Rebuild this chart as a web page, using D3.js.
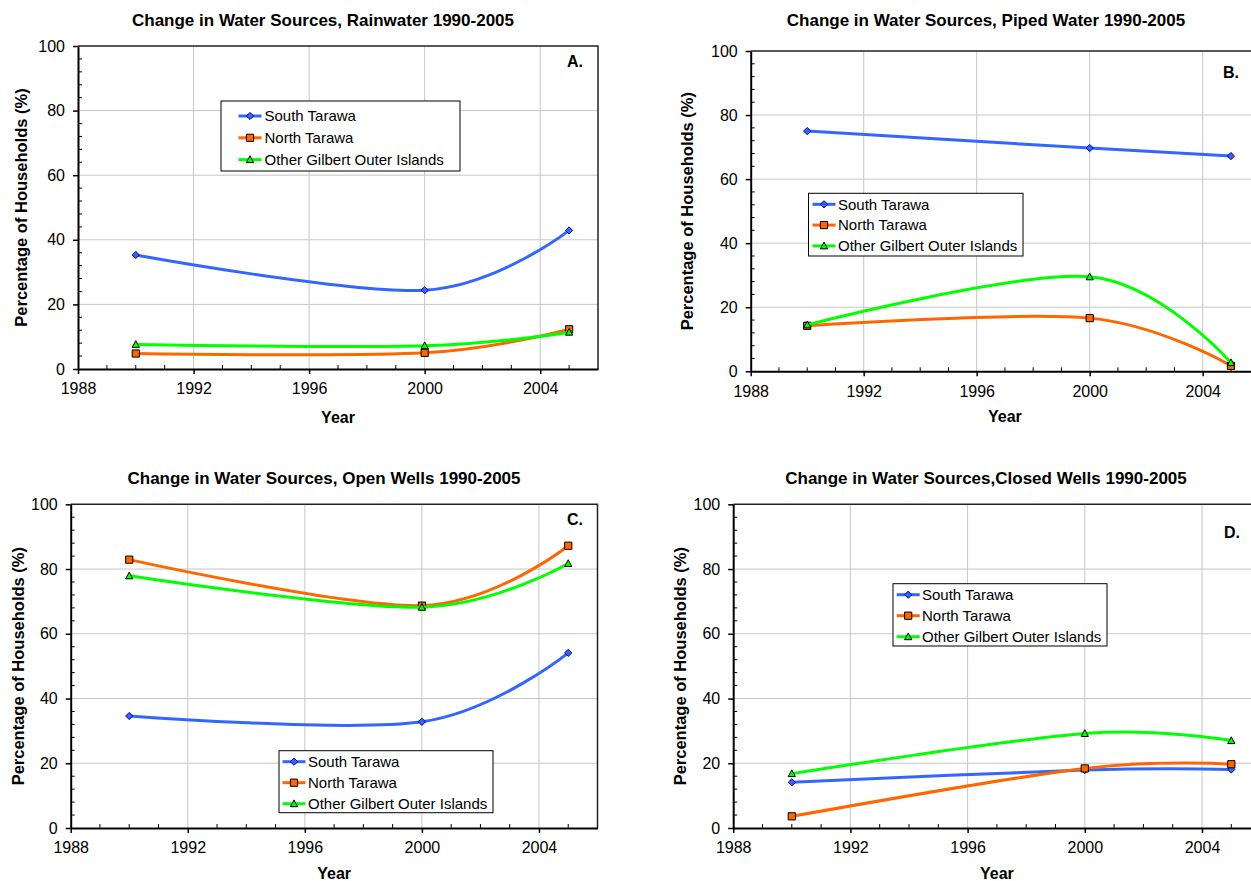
<!DOCTYPE html>
<html>
<head>
<meta charset="utf-8">
<script src="https://cdn.jsdelivr.net/npm/d3@7"></script>
<style>
  html, body { margin: 0; padding: 0; background: #fff; }
  svg { display: block; font-family: "Liberation Sans", Arial, sans-serif; }
</style>
</head>
<body>
<svg id="chart" width="1251" height="881"></svg>
<script>
// ---------------- DATA ----------------
const years = [1990, 2000, 2005];
const seriesNames = ["South Tarawa", "North Tarawa", "Other Gilbert Outer Islands"];

const rainwaterSouth = [35.3, 24.4, 42.9];
const rainwaterNorth = [4.8, 5.0, 12.3];
const rainwaterOther = [7.6, 7.2, 11.4];

const pipedSouth = [75.0, 69.7, 67.2];
const pipedNorth = [14.2, 16.6, 1.7];
const pipedOther = [14.5, 29.5, 2.7];

const openSouth = [34.6, 32.8, 54.1];
const openNorth = [82.9, 68.7, 87.2];
const openOther = [77.9, 68.2, 81.7];

const closedSouth = [14.1, 17.9, 18.1];
const closedNorth = [3.6, 18.4, 19.7];
const closedOther = [16.8, 29.2, 27.0];

const panelTitles = [
  "Change in Water Sources, Rainwater 1990-2005",
  "Change in Water Sources, Piped Water 1990-2005",
  "Change in Water Sources, Open Wells 1990-2005",
  "Change in Water Sources,Closed Wells 1990-2005"
];
const panelLetters = ["A.", "B.", "C.", "D."];
const xTickValues = [1988, 1992, 1996, 2000, 2004];
const yTickValues = [0, 20, 40, 60, 80, 100];
const xAxisTitle = "Year";
const yAxisTitle = "Percentage of Households (%)";

// ---------------- STYLE / LAYOUT ----------------
const colors = ["#3366FF", "#FF6600", "#00FF00"];
const markerStroke = ["#000080", "#000000", "#000000"];
const markerKinds = ["diamond", "square", "triangle"];

const panels = [
  { data: [rainwaterSouth, rainwaterNorth, rainwaterOther],
    x0: 78, x1: 598, y0: 369, y1: 46, xTitleOff: 48,
    titleX: 323, titleY: 20, letterX: 575, letterY: 61,
    yTitleX: 21,
    legend: { x: 221, y: 101, w: 239, h: 70, row0: 15, rowGap: 21.8, sx: 17.5, tx: 43.5 } },
  { data: [pipedSouth, pipedNorth, pipedOther],
    x0: 750.7, x1: 1259.2, y0: 371.3, y1: 51, xTitleOff: 45,
    titleX: 986, titleY: 20, letterX: 1231, letterY: 72,
    yTitleX: 687,
    legend: { x: 808.5, y: 193.3, w: 214.5, h: 62.7, row0: 11, rowGap: 20.8, sx: 4, tx: 29.5 } },
  { data: [openSouth, openNorth, openOther],
    x0: 70.7, x1: 597.5, y0: 828, y1: 504.3, xTitleOff: 45,
    titleX: 324, titleY: 478, letterX: 575, letterY: 519,
    yTitleX: 18,
    legend: { x: 279, y: 750.7, w: 214, h: 62, row0: 11, rowGap: 21, sx: 3.5, tx: 29 } },
  { data: [closedSouth, closedNorth, closedOther],
    x0: 733.2, x1: 1260.6, y0: 828, y1: 504.3, xTitleOff: 45,
    titleX: 986, titleY: 478, letterX: 1232, letterY: 532,
    yTitleX: 680,
    legend: { x: 893, y: 583.7, w: 214, h: 62.3, row0: 11, rowGap: 21, sx: 3.7, tx: 29 } }
];

const svg = d3.select("#chart");

function markerPath(kind) {
  if (kind === "diamond") return "M0,-3.6L3.6,0L0,3.6L-3.6,0Z";
  if (kind === "square") return "M-3.6,-3.6H3.6V3.6H-3.6Z";
  return "M0,-3.8L3.6,3L-3.6,3Z";
}

panels.forEach((p, pi) => {
  const g = svg.append("g");
  const x = d3.scaleLinear().domain([1988, 2006]).range([p.x0, p.x1]);
  const y = d3.scaleLinear().domain([0, 100]).range([p.y0, p.y1]);

  // gridlines
  g.append("g").selectAll("line.vg")
    .data(xTickValues.filter(v => v > 1988))
    .join("line")
    .attr("x1", d => x(d)).attr("x2", d => x(d))
    .attr("y1", p.y0).attr("y2", p.y1)
    .attr("stroke", "#c6c6c6").attr("stroke-width", 1);
  g.append("g").selectAll("line.hg")
    .data(yTickValues.filter(v => v > 0 && v < 100))
    .join("line")
    .attr("x1", p.x0).attr("x2", p.x1)
    .attr("y1", d => y(d)).attr("y2", d => y(d))
    .attr("stroke", "#c6c6c6").attr("stroke-width", 1);

  // plot border top/right
  g.append("path")
    .attr("d", `M${p.x0},${p.y1}H${p.x1}V${p.y0}`)
    .attr("fill", "none").attr("stroke", "#222").attr("stroke-width", 1.5);

  // minor ticks (inside)
  const minorX = d3.range(1989, 2006).filter(v => !xTickValues.includes(v));
  g.append("g").selectAll("line")
    .data(minorX).join("line")
    .attr("x1", d => x(d)).attr("x2", d => x(d))
    .attr("y1", p.y0).attr("y2", p.y0 - 4)
    .attr("stroke", "#000").attr("stroke-width", 1);
  const minorY = d3.range(4, 100, 4).filter(v => v % 20 !== 0);
  g.append("g").selectAll("line")
    .data(minorY).join("line")
    .attr("x1", p.x0).attr("x2", p.x0 + 4)
    .attr("y1", d => y(d)).attr("y2", d => y(d))
    .attr("stroke", "#000").attr("stroke-width", 1);

  // axes
  const xAxis = d3.axisBottom(x).tickValues(xTickValues).tickFormat(d3.format("d"))
    .tickSizeInner(5).tickSizeOuter(0).tickPadding(9);
  const gx = g.append("g").attr("transform", `translate(0,${p.y0})`).call(xAxis);
  const yAxis = d3.axisLeft(y).tickValues(yTickValues).tickSizeInner(5).tickSizeOuter(0).tickPadding(8);
  const gy = g.append("g").attr("transform", `translate(${p.x0},0)`).call(yAxis);
  [gx, gy].forEach(ax => {
    ax.select(".domain").attr("stroke", "#000").attr("stroke-width", 2);
    ax.selectAll(".tick line").attr("stroke", "#000").attr("stroke-width", 1.5);
    ax.selectAll(".tick text").attr("font-size", 16).attr("fill", "#000")
      .attr("font-family", "Liberation Sans, Arial, sans-serif");
  });

  // titles
  g.append("text").attr("x", p.titleX).attr("y", p.titleY).attr("dy", "0.35em")
    .attr("text-anchor", "middle").attr("font-size", 17).attr("font-weight", "bold")
    .text(panelTitles[pi]);
  g.append("text").attr("x", (p.x0 + p.x1) / 2).attr("y", p.y0 + p.xTitleOff).attr("dy", "0.35em")
    .attr("text-anchor", "middle").attr("font-size", 16).attr("font-weight", "bold")
    .text(xAxisTitle);
  g.append("text")
    .attr("transform", `translate(${p.yTitleX},${(p.y0 + p.y1) / 2}) rotate(-90)`)
    .attr("dy", "0.35em").attr("text-anchor", "middle")
    .attr("font-size", 16.5).attr("font-weight", "bold")
    .text(yAxisTitle);
  g.append("text").attr("x", p.letterX).attr("y", p.letterY).attr("dy", "0.35em")
    .attr("text-anchor", "middle").attr("font-size", 16).attr("font-weight", "bold")
    .text(panelLetters[pi]);

  // series
  const line = d3.line().x((d, i) => x(years[i])).y(d => y(d)).curve(d3.curveCardinal.tension(0));
  p.data.forEach((vals, si) => {
    const sg = g.append("g");
    sg.append("path").attr("d", line(vals))
      .attr("fill", "none").attr("stroke", colors[si]).attr("stroke-width", 3)
      .attr("stroke-linejoin", "round");
    sg.selectAll("path.m").data(vals).join("path")
      .attr("class", "m")
      .attr("transform", (d, i) => `translate(${x(years[i])},${y(d)})`)
      .attr("d", markerPath(markerKinds[si]))
      .attr("fill", colors[si]).attr("stroke", markerStroke[si]).attr("stroke-width", 1);
  });

  // legend
  const L = p.legend;
  const lg = g.append("g").attr("transform", `translate(${L.x},${L.y})`);
  lg.append("rect").attr("width", L.w).attr("height", L.h)
    .attr("fill", "#fff").attr("stroke", "#000").attr("stroke-width", 1);
  seriesNames.forEach((name, si) => {
    const ry = L.row0 + si * L.rowGap;
    lg.append("line").attr("x1", L.sx).attr("x2", L.sx + 23).attr("y1", ry).attr("y2", ry)
      .attr("stroke", colors[si]).attr("stroke-width", 3);
    lg.append("path").attr("transform", `translate(${L.sx + 11.5},${ry})`)
      .attr("d", markerPath(markerKinds[si]))
      .attr("fill", colors[si]).attr("stroke", markerStroke[si]).attr("stroke-width", 1);
    lg.append("text").attr("x", L.tx).attr("y", ry).attr("dy", "0.35em")
      .attr("font-size", 15).text(name);
  });
});
</script>
</body>
</html>
